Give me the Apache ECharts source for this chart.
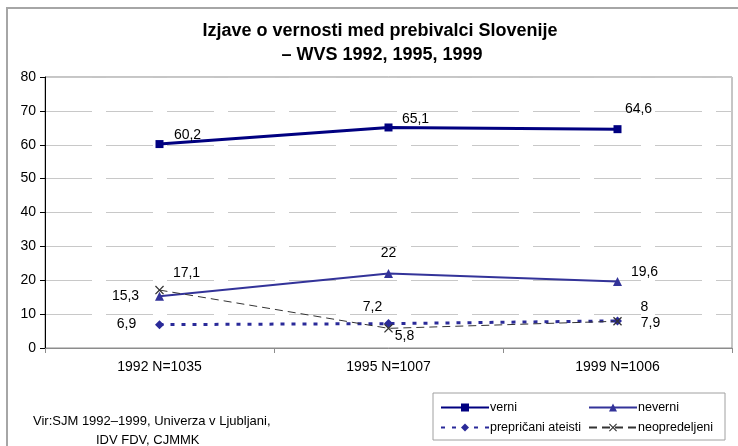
<!DOCTYPE html>
<html>
<head>
<meta charset="utf-8">
<script src="https://cdn.jsdelivr.net/npm/echarts@6/dist/echarts.min.js"></script>
<style>
  html, body { margin: 0; padding: 0; background: #fff; }
  #chart1 { width: 738px; height: 446px; }
</style>
</head>
<body>
<div id="chart1"></div>
<script>
(function(){

    var categories = ['1992 N=1035', '1995 N=1007', '1999 N=1006'];
    var verni = [60.2, 65.1, 64.6];
    var neverni = [15.3, 22, 19.6];
    var ateisti = [6.9, 7.2, 8];
    var neopredeljeni = [17.1, 5.8, 7.9];
    var yTicks = [0, 10, 20, 30, 40, 50, 60, 70, 80];

    var font = 'Liberation Sans, Arial, sans-serif';
    var xPath = 'path://M0,1L1,0L5,4L9,0L10,1L6,5L10,9L9,10L5,6L1,10L0,9L4,5Z';

    // oznake: [odmik x, odmik y] za vsako tocko
    function withLabels(arr, offs){
        return arr.map(function(v, i){
            return { value: v, label: { offset: offs[i] } };
        });
    }
    function fmt(p){
        return String(p.value).replace('.', ',');
    }
    var lbl = { show: true, position: 'inside', formatter: fmt, color: '#000', fontSize: 14, fontFamily: font };

    var chart1 = echarts.init(document.getElementById('chart1'));

    var option = {
        animation: false,
        graphic: [
            { type: 'rect', shape: { x: 7, y: 8, width: 740, height: 450 }, style: { fill: 'none', stroke: '#a6a6a6', lineWidth: 2 }, silent: true },
            { type: 'text', x: 380, y: 31, style: { text: 'Izjave o vernosti med prebivalci Slovenije', align: 'center', verticalAlign: 'middle', fontFamily: font, fontSize: 18, fontWeight: 'bold', fill: '#000' } },
            { type: 'text', x: 382, y: 55, style: { text: '– WVS 1992, 1995, 1999', align: 'center', verticalAlign: 'middle', fontFamily: font, fontSize: 18, fontWeight: 'bold', fill: '#000' } },
            { type: 'rect', shape: { x: 433, y: 393, width: 292, height: 47 }, style: { fill: 'none', stroke: '#a0a0a0', lineWidth: 1 }, silent: true },
            { type: 'text', left: 33, top: 415, style: { text: 'Vir:SJM 1992–1999, Univerza v Ljubljani,', fontFamily: font, fontSize: 13, fill: '#000' } },
            { type: 'text', left: 96, top: 434, style: { text: 'IDV FDV, CJMMK', fontFamily: font, fontSize: 13, fill: '#000' } }
        ],
        legend: [
            {
                orient: 'vertical', left: 435, top: 396, itemGap: 7,
                itemWidth: 48, itemHeight: 10,
                textStyle: { fontFamily: font, fontSize: 12.5, color: '#000', padding: [0, 0, 0, -4] },
                data: ['verni', 'prepričani ateisti']
            },
            {
                orient: 'vertical', left: 583, top: 396, itemGap: 7,
                itemWidth: 48, itemHeight: 10,
                textStyle: { fontFamily: font, fontSize: 12.5, color: '#000', padding: [0, 0, 0, -4] },
                data: ['neverni', 'neopredeljeni']
            }
        ],
        grid: {
            left: 45, right: 6, top: 77, bottom: 98,
            show: true, borderColor: '#8c8c8c', borderWidth: 1
        },
        xAxis: {
            type: 'category',
            data: categories,
            boundaryGap: true,
            axisLine: { lineStyle: { color: '#8c8c8c', width: 1 } },
            axisTick: { show: true, length: 5, lineStyle: { color: '#8c8c8c' } },
            axisLabel: { color: '#000', fontSize: 14, fontFamily: font, margin: 12 }
        },
        yAxis: {
            type: 'value',
            min: yTicks[0], max: yTicks[yTicks.length - 1], interval: 10,
            axisLine: { show: true, lineStyle: { color: '#000', width: 1 } },
            axisTick: { show: true, length: 5, lineStyle: { color: '#000' } },
            axisLabel: { color: '#000', fontSize: 14, fontFamily: font, margin: 9 },
            splitLine: { lineStyle: { color: '#c8c8c8', width: 1, type: [47, 14] } }
        },
        series: [
            {
                name: 'verni', type: 'line',
                data: withLabels(verni, [[28, -9], [27, -8], [21, -20]]),
                symbol: 'rect', symbolSize: 8,
                lineStyle: { color: '#000080', width: 3 },
                itemStyle: { color: '#000080' },
                label: lbl
            },
            {
                name: 'neverni', type: 'line',
                data: withLabels(neverni, [[-34, 0], [0, -20], [27, -9]]),
                symbol: 'triangle', symbolSize: 9,
                lineStyle: { color: '#333399', width: 2 },
                itemStyle: { color: '#333399' },
                label: lbl
            },
            {
                name: 'prepričani ateisti', type: 'line',
                data: withLabels(ateisti, [[-33, 0], [-16, -16], [27, -14]]),
                symbol: 'diamond', symbolSize: 9,
                lineStyle: { color: '#2a2a99', width: 3, type: [4, 7] },
                itemStyle: { color: '#2a2a99' },
                label: lbl
            },
            {
                name: 'neopredeljeni', type: 'line',
                data: withLabels(neopredeljeni, [[27, -17], [16, 8], [33, 2]]),
                symbol: xPath, symbolSize: 9,
                lineStyle: { color: '#333333', width: 1, type: [8, 5] },
                itemStyle: { color: '#333333' },
                label: lbl
            }
        ]
    };

    chart1.setOption(option);
    window.onresize = chart1.resize;

})();
</script>
</body>
</html>
